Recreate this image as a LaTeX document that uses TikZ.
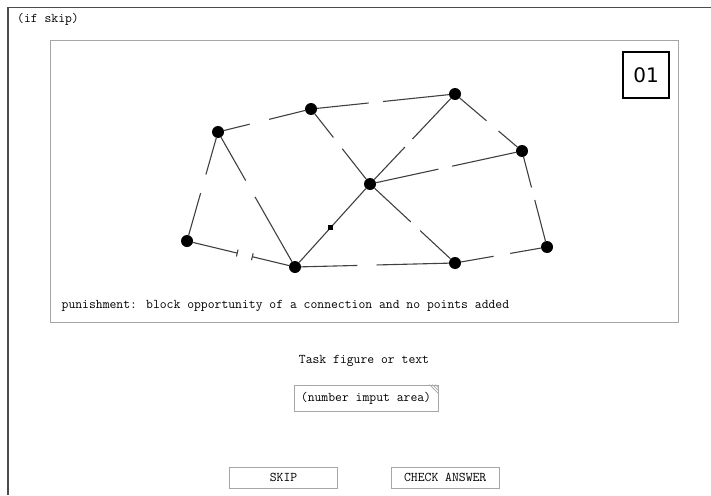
\documentclass[tikz,border=0pt]{standalone}
\usepackage{fontspec}
\setsansfont{DejaVu Sans}
\usetikzlibrary{calc,arrows.meta}

\begin{document}
\begin{tikzpicture}[
    x=1pt, y=-1pt,
    dot/.style={circle, fill=black, inner sep=0pt, minimum size=12pt},
    edge/.style={draw=black!75, line width=1.1pt},
    label/.style={font=\ttfamily\fontsize{13.3}{15}\selectfont, inner sep=0pt},
    btn/.style={draw=gray!70, line width=0.9pt, font=\ttfamily\fontsize{13.3}{15}\selectfont, inner sep=0pt}
  ]
    \useasboundingbox (0,0) rectangle (711,495);

    % --- Outer frame ---
    \draw[black!70, line width=1.5pt] (711,7.5) -- (8,7.5) -- (8,495);
    \node[label, anchor=west] (ifskip) at (17,19) {(if skip)};

    % --- Task panel ---
    \draw[gray!70, line width=0.9pt] (50,40) rectangle (678.5,322);
    \node[draw=black, line width=2pt, minimum width=46pt, minimum height=45.5pt, inner sep=0pt, font=\sffamily\fontsize{20}{22}\selectfont] (num) at (646,75) {01};

    % Points
    \node[dot] (p1) at (218,132) {};
    \node[dot] (p2) at (311,109) {};
    \node[dot] (p3) at (370,184) {};
    \node[dot] (p4) at (187,241) {};
    \node[dot] (p5) at (295,267) {};
    \node[dot] (p6) at (455,94) {};
    \node[dot] (p7) at (522,151) {};
    \node[dot] (p8) at (547,247) {};
    \node[dot] (p9) at (455,263) {};

    % Open connections (with a gap)
    \draw[edge] (p4) -- ($(p4)!0.44!(p1)$) ($(p4)!0.61!(p1)$) -- (p1);
    \draw[edge] (p1) -- ($(p1)!0.34!(p2)$) ($(p1)!0.55!(p2)$) -- (p2);
    \draw[edge] (p1) -- ($(p1)!0.36!(p5)$) ($(p1)!0.48!(p5)$) -- (p5);
    \draw[edge] (p2) -- ($(p2)!0.38!(p3)$) ($(p2)!0.53!(p3)$) -- (p3);
    \draw[edge] (p2) -- ($(p2)!0.40!(p6)$) ($(p2)!0.50!(p6)$) -- (p6);
    \draw[edge] (p3) -- ($(p3)!0.41!(p6)$) ($(p3)!0.50!(p6)$) -- (p6);
    \draw[edge] (p6) -- ($(p6)!0.47!(p7)$) ($(p6)!0.65!(p7)$) -- (p7);
    \draw[edge] (p3) -- ($(p3)!0.45!(p7)$) ($(p3)!0.54!(p7)$) -- (p7);
    \draw[edge] (p7) -- ($(p7)!0.38!(p8)$) ($(p7)!0.51!(p8)$) -- (p8);
    \draw[edge] (p3) -- ($(p3)!0.48!(p9)$) ($(p3)!0.59!(p9)$) -- (p9);
    \draw[edge] (p9) -- ($(p9)!0.42!(p8)$) ($(p9)!0.60!(p8)$) -- (p8);
    \draw[edge] (p5) -- ($(p5)!0.39!(p9)$) ($(p5)!0.51!(p9)$) -- (p9);

    % Made connection
    \draw[edge] (p5) -- (p3);
    \node[fill=black, inner sep=0pt, minimum size=5pt] (mark) at ($(p5)!0.47!(p3)$) {};

    % Blocked connection
    \draw[edge, -{Bar[width=7pt]}] (p4) -- ($(p4)!0.47!(p5)$);
    \draw[edge, -{Bar[width=7pt]}] (p5) -- ($(p5)!0.40!(p4)$);

    \node[label, anchor=west] (note) at (61.5,306) {punishment: block opportunity of a connection and no points added};

    % --- Answer area ---
    \node[label] (task) at (364,361) {Task figure or text};
    \node[btn, minimum width=144pt, minimum height=26pt] (input) at (366,398) {(number imput area)};
    \draw[gray!70, line width=0.6pt] ($(input.north east)+(-9,0)$) -- ($(input.north east)+(0,9)$)
      ($(input.north east)+(-6,0)$) -- ($(input.north east)+(0,6)$)
      ($(input.north east)+(-3,0)$) -- ($(input.north east)+(0,3)$);

    \node[btn, minimum width=108.5pt, minimum height=21pt] (skip) at (283.5,477.8) {SKIP};
    \node[btn, minimum width=108.5pt, minimum height=21pt] (check) at (445.2,477.8) {CHECK ANSWER};
  \end{tikzpicture}
\end{document}
